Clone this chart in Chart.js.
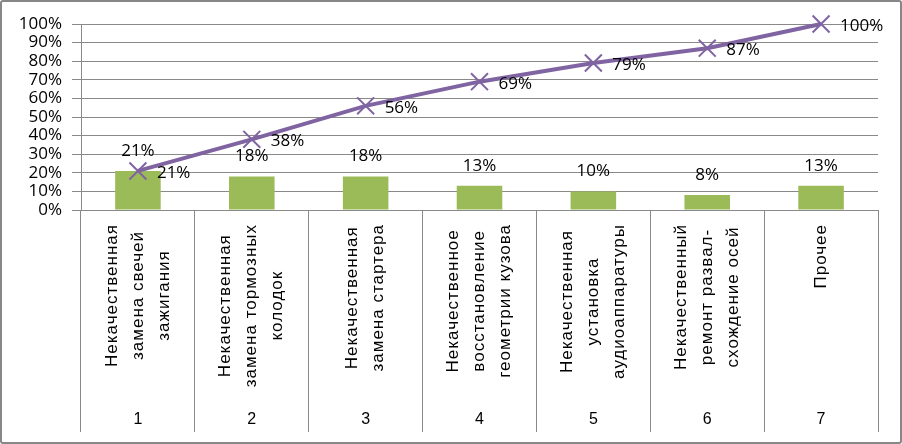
<!DOCTYPE html>
<html><head><meta charset="utf-8">
<script src="https://cdn.jsdelivr.net/npm/chart.js@4"></script>
<style>
html,body{margin:0;padding:0;background:#fff;}
#wrap{width:902px;height:444px;box-sizing:border-box;border:2px solid #878787;border-radius:3px;background:#fff;}
canvas{display:block;}
</style></head><body>
<div id="wrap"><canvas id="c" width="898" height="440"></canvas></div>
<script>
// ---- data ----
const categoryNumbers = ['1', '2', '3', '4', '5', '6', '7'];
const categoryLines = [
  ['Некачественная', 'замена свечей', 'зажигания'],
  ['Некачественная', 'замена тормозных', 'колодок'],
  ['Некачественная', 'замена стартера'],
  ['Некачественное', 'восстановление', 'геометрии кузова'],
  ['Некачественная', 'установка', 'аудиоаппаратуры'],
  ['Некачественный', 'ремонт развал-', 'схождение осей'],
  ['Прочее']
];
const shareValues = [21, 18, 18, 13, 10, 8, 13];
const cumulativeValues = [21, 38, 56, 69, 79, 87, 100];
const yMin = 0, yMax = 100, yStep = 10;

// ---- styles ----
const GRID = '#898989';
const VALUE_FONT = '17px "Open Sans"';
const CAT_FONT = '17px "Liberation Sans"';

const labelsPlugin = {
  id: 'labels',
  afterDatasetsDraw(chart) {
    const ctx = chart.ctx;
    ctx.save();
    ctx.fillStyle = '#000';
    ctx.font = VALUE_FONT;
    ctx.textBaseline = 'middle';
    ctx.textAlign = 'center';
    chart.getDatasetMeta(0).data.forEach((b, i) => {
      ctx.fillText(shareValues[i] + '%', b.x, b.y - 20);
    });
    ctx.textAlign = 'left';
    chart.getDatasetMeta(1).data.forEach((p, i) => {
      ctx.fillText(cumulativeValues[i] + '%', p.x + 19, p.y + 2);
    });
    const xs = chart.scales.x;
    const top = chart.chartArea.bottom + 14;
    ctx.font = CAT_FONT;
    ctx.letterSpacing = '1px';
    ctx.textAlign = 'center';
    categoryLines.forEach((lines, i) => {
      const cx = xs.getPixelForValue(i);
      const w = Math.max(...lines.map(l => ctx.measureText(l).width));
      ctx.save();
      ctx.translate(cx, top + w / 2);
      ctx.rotate(-Math.PI / 2);
      lines.forEach((l, j) => ctx.fillText(l, 0, (j - (lines.length - 1) / 2) * 26));
      ctx.restore();
    });
    ctx.restore();
  }
};

new Chart(document.getElementById('c'), {
  data: {
    labels: categoryNumbers,
    datasets: [
      {
        type: 'bar',
        data: shareValues,
        backgroundColor: '#9BBB59',
        barPercentage: 0.4,
        categoryPercentage: 1,
        order: 1
      },
      {
        type: 'line',
        data: cumulativeValues,
        borderColor: '#8064A2',
        borderWidth: 4,
        tension: 0,
        pointStyle: 'crossRot',
        pointRadius: 12,
        pointBorderWidth: 2,
        pointBorderColor: '#8064A2',
        pointBackgroundColor: '#8064A2',
        clip: false,
        order: 0
      }
    ]
  },
  options: {
    responsive: false,
    animation: false,
    devicePixelRatio: 1,
    layout: { padding: { top: 22, left: 0, right: 22, bottom: 0 } },
    plugins: { legend: { display: false }, tooltip: { enabled: false } },
    scales: {
      x: {
        offset: true,
        grid: { offset: true, drawOnChartArea: false, drawTicks: true, tickLength: 222, color: GRID, lineWidth: 1 },
        border: { display: true, color: GRID, width: 1 },
        ticks: { color: '#000', font: { family: 'Liberation Sans', size: 16 }, padding: -22, maxRotation: 0, autoSkip: false },
        afterFit(s) { s.height = 232; }
      },
      y: {
        min: yMin, max: yMax,
        grid: { color: GRID, lineWidth: 1, tickLength: 9, drawTicks: true },
        border: { display: true, color: GRID, width: 1 },
        ticks: { stepSize: yStep, autoSkip: false, color: '#000', font: { family: 'Open Sans', size: 17, lineHeight: 1 }, padding: 10, callback: v => v + '%' },
        afterFit(s) { s.width = 79; }
      }
    }
  },
  plugins: [labelsPlugin]
});
</script>
</body></html>
